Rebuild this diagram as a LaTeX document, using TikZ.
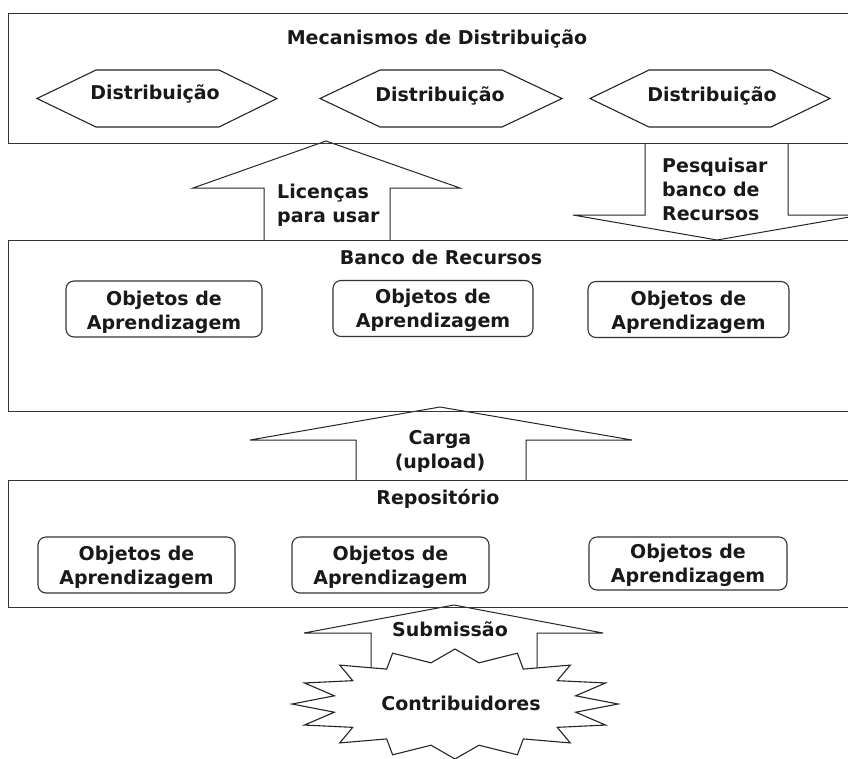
\documentclass[tikz,border=0pt]{standalone}
\usepackage{fontspec}
\setmainfont{DejaVu Sans}[BoldFont=DejaVu Sans Bold]
\begin{document}
\begin{tikzpicture}[x=1pt,y=-1pt,
  every node/.style={font=\bfseries\fontsize{19}{24}\selectfont, inner sep=0pt, text=black!90},
  frame/.style={draw=black!80, line width=1.4pt, anchor=north west},
  hexa/.style={draw=black!85, line width=1.1pt, fill=white, line join=miter},
  objbox/.style={draw=black!80, line width=1.1pt, rounded corners=8pt, minimum width=#1, minimum height=56pt},
  objbox/.default=197pt,
  objtxt/.style={align=center},
  blockarrow/.style={draw=black!85, line width=1pt, fill=white, line join=miter},
  lbl/.style={anchor=base},
]
\useasboundingbox (0,0) rectangle (848,758);
\fill[white] (0,0) rectangle (848,758);
\clip (0,0) rectangle (848,758);

% ---------- block arrows (drawn first, frames on top) ----------
% Licencas (up)
\draw[blockarrow] (264,240) -- (264,188) -- (193,188) -- (326,141) -- (460,188) -- (390,188) -- (390,240);
% Pesquisar (down)
\draw[blockarrow] (645,143) -- (645,215) -- (573,215) -- (717,240) -- (861,215) -- (788,215) -- (788,143);
% Carga (up)
\draw[blockarrow] (356,480) -- (356,440) -- (250,440) -- (440,407) -- (632,440) -- (526,440) -- (526,480);
% Submissao (up)
\draw[blockarrow] (371,668) -- (371,633) -- (304,633) -- (454,605) -- (603,633) -- (537,633) -- (537,668);

% ---------- frames ----------
\node[frame, minimum width=850pt, minimum height=130pt] (mech) at (8,13) {};
\node[frame, minimum width=850pt, minimum height=171pt] (bank) at (8,240) {};
\node[frame, minimum width=850pt, minimum height=127pt] (repo) at (8,480) {};

% ---------- titles ----------
\node[lbl] (mechT) at (437,44.5) {Mecanismos de Distribuição};
\node[lbl] (bankT) at (441,264.5) {Banco de Recursos};
\node[lbl] (repoT) at (438,504) {Repositório};

% ---------- distribution hexagons ----------
\draw[hexa] (37,98.5) -- (96,70) -- (219,70) -- (277,98.5) -- (219,127) -- (96,127) -- cycle;
\draw[hexa] (320,98.5) -- (380,70) -- (502,70) -- (562,98.5) -- (502,127) -- (380,127) -- cycle;
\draw[hexa] (590,98.5) -- (649,70) -- (771,70) -- (830,98.5) -- (771,127) -- (649,127) -- cycle;
\node[lbl] (d1) at (155,99.5) {Distribuição};
\node[lbl] (d2) at (440,101) {Distribuição};
\node[lbl] (d3) at (712,101) {Distribuição};

% ---------- learning objects in the resource bank ----------
\node[objbox=196pt] (b1) at (164,309) {};
\node[objbox=200pt] (b2) at (433,308.5) {};
\node[objbox=201pt] (b3) at (688.5,309.5) {};
\node[objtxt] (b1t) at (164,312) {Objetos de\\Aprendizagem};
\node[objtxt] (b2t) at (433,310) {Objetos de\\Aprendizagem};
\node[objtxt] (b3t) at (688.5,312) {Objetos de\\Aprendizagem};

% ---------- learning objects in the repository ----------
\node[objbox=197pt] (r1) at (136.5,565) {};
\node[objbox=197pt] (r2) at (390.5,565) {};
\node[objbox=198pt, minimum height=53pt] (r3) at (688,563.5) {};
\node[objtxt] (r1t) at (136.5,567.5) {Objetos de\\Aprendizagem};
\node[objtxt] (r2t) at (390.5,567.5) {Objetos de\\Aprendizagem};
\node[objtxt] (r3t) at (688,565.5) {Objetos de\\Aprendizagem};

% ---------- arrow labels ----------
\node[align=left, anchor=west] (lic) at (277,205) {Licenças\\para usar};
\node[align=left, anchor=west] (pes) at (662,189) {Pesquisar\\banco de\\Recursos};
\node[align=center] (carga) at (440,451) {Carga\\(upload)};
\node[lbl] (sub) at (450,636.5) {Submissão};

% ---------- contributors starburst ----------
\draw[hexa] plot[samples at={0,1,...,31}, variable=\k]
  ({455+(143+20*cos(\k*180))*cos(90+\k*11.25)}, {704-(48.5+6.5*cos(\k*180))*sin(90+\k*11.25)}) -- cycle;
\node[lbl] (contrib) at (461,710.5) {Contribuidores};
\end{tikzpicture}
\end{document}
